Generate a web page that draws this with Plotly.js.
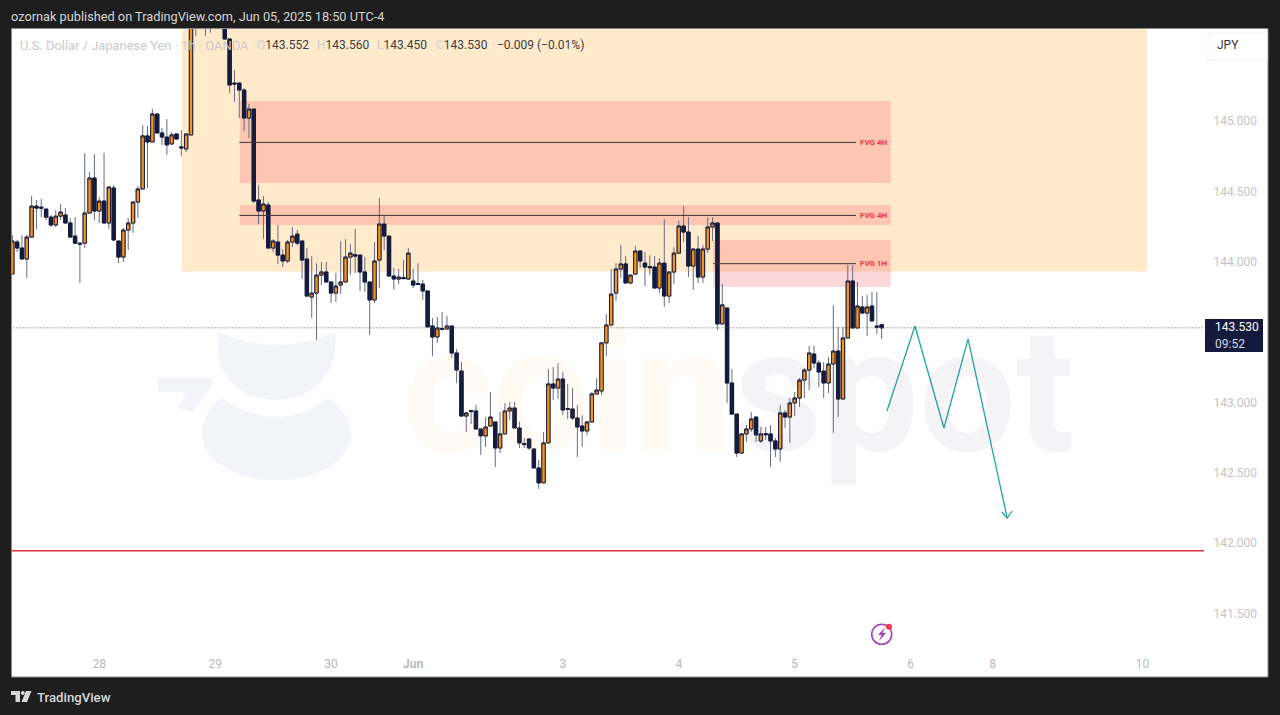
<!DOCTYPE html>
<html><head><meta charset="utf-8">
<script src="https://cdn.plot.ly/plotly-3.0.1.min.js"></script>
<style>html,body{margin:0;padding:0;background:#1e1e1e;overflow:hidden}#c{width:1280px;height:715px}</style>
</head><body><div id="c"></div>
<script>
const opens = [
143.913,144.140,144.097,144.019,144.175,144.395,144.388,144.374,144.317,144.261,
144.324,144.332,144.275,144.182,144.132,144.132,144.346,144.595,144.360,144.431,
144.275,144.524,144.147,144.033,144.225,144.275,144.424,144.517,144.894,144.851,
145.050,144.915,144.886,144.837,144.908,144.816,144.801,144.901,145.750,145.720,
145.800,145.780,145.740,145.770,145.720,145.583,145.270,145.270,145.220,145.021,
145.085,144.439,144.360,144.403,144.097,144.140,144.047,144.005,144.140,144.196,
144.147,144.019,143.749,143.777,143.905,143.927,143.856,143.777,143.834,143.856,
144.033,144.050,144.047,143.927,143.856,143.728,144.012,144.268,144.182,143.898,
143.877,143.887,143.877,143.863,143.845,143.841,143.792,143.543,143.465,143.525,
143.522,143.543,143.351,143.223,142.903,142.942,142.939,142.811,142.762,142.832,
142.861,142.676,142.776,142.939,142.960,142.818,142.708,142.740,142.669,142.534,
142.428,142.712,143.131,143.102,143.166,142.956,142.953,142.889,142.832,142.797,
142.861,143.060,143.081,143.423,143.550,143.777,143.948,143.984,143.849,143.912,
144.076,143.990,143.965,143.962,143.813,143.990,143.756,143.927,144.061,144.254,
144.211,143.969,144.090,143.891,144.090,144.247,144.275,143.558,143.671,143.138,
142.917,142.640,142.776,142.811,142.896,142.726,142.778,142.776,142.726,142.669,
142.925,142.896,142.996,143.031,143.159,143.230,143.344,143.280,143.223,143.138,
143.273,143.365,143.024,143.458,143.863,143.529,143.678,143.635,143.685,143.543,
143.552];
const highs = [
144.190,144.154,144.190,144.190,144.467,144.439,144.446,144.374,144.332,144.367,
144.410,144.381,144.310,144.317,144.132,144.772,144.638,144.765,144.460,144.772,
144.531,144.545,144.147,144.240,144.310,144.431,144.538,144.972,144.965,145.085,
145.050,144.951,145.014,144.922,144.908,144.936,144.908,145.800,145.850,145.860,
145.900,145.880,145.850,145.830,145.780,145.583,145.362,145.270,145.234,145.121,
145.085,144.545,144.467,144.424,144.161,144.261,144.090,144.154,144.247,144.225,
144.147,144.097,144.040,143.990,143.998,143.998,143.856,143.920,144.147,144.161,
144.125,144.232,144.047,144.033,143.856,144.140,144.453,144.332,144.182,143.955,
143.948,144.012,144.097,143.948,143.990,143.870,143.792,143.600,143.607,143.643,
143.614,143.543,143.379,143.287,142.932,142.946,142.982,142.811,142.896,143.074,
142.861,142.932,142.996,143.003,143.003,142.861,142.747,142.740,142.669,142.591,
142.790,143.237,143.251,143.280,143.216,143.131,143.102,142.982,142.910,142.861,
143.074,143.173,143.423,143.628,143.948,143.990,144.118,144.040,143.905,144.111,
144.083,144.069,144.047,144.040,144.026,144.303,143.927,144.104,144.289,144.396,
144.317,144.097,144.182,144.118,144.317,144.317,144.275,143.842,143.671,143.237,
142.917,142.776,142.839,142.932,142.896,142.825,142.825,142.839,142.747,142.982,
142.946,143.031,143.074,143.173,143.244,143.401,143.401,143.301,143.287,143.323,
143.692,143.536,143.536,143.976,143.976,143.856,143.756,143.763,143.785,143.785,
143.560];
const lows = [
143.913,144.069,144.019,143.884,144.175,144.232,144.317,144.296,144.247,144.247,
144.296,144.275,144.175,144.132,143.849,144.097,144.346,144.296,144.275,144.275,
144.232,144.154,143.990,143.998,144.083,144.204,144.310,144.517,144.524,144.851,
144.915,144.830,144.759,144.830,144.872,144.752,144.780,144.901,145.604,145.680,
145.604,145.626,145.690,145.680,145.583,145.199,145.135,145.021,144.929,144.879,
144.417,144.268,144.161,144.097,144.069,143.984,143.962,143.990,144.104,144.118,
143.877,143.756,143.600,143.444,143.834,143.856,143.706,143.714,143.770,143.856,
143.905,143.920,143.792,143.785,143.479,143.706,143.813,144.083,143.898,143.799,
143.842,143.880,143.870,143.813,143.838,143.728,143.537,143.330,143.423,143.515,
143.515,143.316,143.138,142.903,142.790,142.846,142.811,142.626,142.683,142.832,
142.541,142.640,142.776,142.875,142.818,142.676,142.676,142.662,142.534,142.385,
142.428,142.712,143.017,143.024,142.910,142.882,142.875,142.612,142.683,142.768,
142.861,143.060,143.052,143.330,143.550,143.721,143.884,143.849,143.842,143.912,
143.955,143.827,143.905,143.813,143.777,143.678,143.706,143.842,144.061,144.140,
143.891,143.799,143.849,143.849,144.061,144.147,143.515,143.558,142.996,142.917,
142.612,142.640,142.719,142.790,142.719,142.712,142.733,142.541,142.612,142.577,
142.818,142.712,142.903,142.967,143.031,143.088,143.244,143.109,143.031,143.067,
142.783,142.896,143.024,143.458,143.529,143.529,143.635,143.472,143.579,143.487,
143.450];
const closes = [
144.147,144.097,144.019,144.175,144.395,144.381,144.381,144.317,144.261,144.324,
144.353,144.275,144.175,144.132,144.125,144.346,144.595,144.360,144.431,144.275,
144.531,144.154,144.033,144.225,144.275,144.424,144.517,144.894,144.851,145.050,
144.915,144.886,144.830,144.901,144.872,144.809,144.908,145.753,145.720,145.800,
145.780,145.740,145.770,145.720,145.583,145.256,145.263,145.220,145.021,145.085,
144.431,144.360,144.410,144.097,144.147,144.047,144.005,144.140,144.182,144.132,
144.012,143.756,143.777,143.905,143.927,143.856,143.777,143.827,143.856,144.033,
144.061,144.040,143.927,143.856,143.728,144.005,144.268,144.182,143.898,143.877,
143.891,143.880,144.061,143.834,143.838,143.792,143.537,143.465,143.529,143.518,
143.543,143.351,143.230,142.903,142.925,142.935,142.811,142.762,142.825,142.896,
142.676,142.776,142.939,142.960,142.818,142.712,142.700,142.676,142.534,142.428,
142.712,143.131,143.102,143.166,142.946,142.950,142.889,142.825,142.797,142.861,
143.060,143.088,143.423,143.550,143.770,143.948,143.984,143.849,143.905,144.076,
144.005,143.962,143.958,143.813,143.990,143.756,143.927,144.061,144.254,144.211,
143.969,144.090,143.891,144.090,144.247,144.275,143.558,143.693,143.138,142.917,
142.640,142.776,142.811,142.882,142.769,142.776,142.771,142.726,142.669,142.925,
142.896,142.996,143.031,143.159,143.230,143.351,143.280,143.216,143.138,143.273,
143.365,143.024,143.458,143.863,143.529,143.685,143.635,143.678,143.579,143.536,
143.530];

const dayTickBars = [18,42,66,83,114,138,162,186,203,234];
const dayTickText = ['28','29','30','<b>Jun</b>','3','4','5','6','8','10'];
const priceTicks = [141.5,142,142.5,143,144,144.5,145];
const lastPrice = 143.530;
const supportLevel = 141.945;
const projX = [181.1,186.9,192.9,197.9,206.0];
const projY = [142.939,143.543,142.818,143.451,142.178];
const headX = [204.9,206.0,207.0];
const headY = [142.221,142.178,142.228];
const orangeZone = {x:[35.1,235.0], y:[143.930,146.5]};
const fvgZones = [
  {x:[47.1,181.9], y:[144.559,145.142], lineY:144.848, lineX:[47.0,174.7], label:'FVG 4H'},
  {x:[47.1,181.9], y:[144.261,144.403], lineY:144.329, lineX:[47.0,174.7], label:'FVG 4H'},
  {x:[145.1,181.9], y:[143.820,144.154], lineY:143.986, lineX:[145.1,174.7], label:'FVG 1H'}
];

// pixel helpers for page furniture only
const L=12,R=1204,T=29,B=652;
const fx=p=>(p-L)/(R-L), fy=p=>1-(p-T)/(B-T);
const path=s=>s.replace(/(-?[\d.]+),(-?[\d.]+)/g,(m,a,b)=>fx(+a).toFixed(5)+','+fy(+b).toFixed(5));
const rectPx=(x0,y0,x1,y1,o)=>Object.assign({type:'rect',xref:'paper',yref:'paper',x0:fx(x0),x1:fx(x1),y0:fy(y1),y1:fy(y0),line:{width:0}},o);
const pathPx=(s,fill,o)=>Object.assign({type:'path',xref:'paper',yref:'paper',path:path(s),fillcolor:fill,line:{width:0}},o);
const circPx=(cx,cy,r,o)=>Object.assign({type:'circle',xref:'paper',yref:'paper',x0:fx(cx-r),x1:fx(cx+r),y0:fy(cy+r),y1:fy(cy-r),line:{width:0}},o);
const txt=(x,y,text,size,color,o)=>Object.assign({xref:'paper',yref:'paper',x:fx(x),y:fy(y),text,showarrow:false,xanchor:'left',yanchor:'middle',font:{family:'Roboto, sans-serif',size,color},borderpad:0},o);

const wm='#f3f4f7';
const shapes=[
  rectPx(11.5,28.5,1268,677,{fillcolor:'#ffffff',line:{color:'#8a8a8a',width:1},layer:'below'}),
  pathPx('M218,332 Q277,358 335,332 C340,380 305,400 277,400 C245,400 212,380 218,332 Z',wm,{layer:'below'}),
  pathPx('M222,398 Q277,436 328,398 C345,410 351,425 351,432 C351,460 320,480 277,480 C235,480 202,460 202,432 C202,420 212,405 222,398 Z',wm,{layer:'below'}),
  pathPx('M158,378 L212,378 L213,383 L193,412 L178,408 L187,392 L158,392 Z',wm,{layer:'below'}),
  {type:'rect',xref:'x',yref:'y',x0:orangeZone.x[0],x1:orangeZone.x[1],y0:orangeZone.y[0],y1:orangeZone.y[1],fillcolor:'rgba(255,152,0,0.2)',line:{width:0},layer:'below'}
];
fvgZones.forEach(z=>{
  shapes.push({type:'rect',xref:'x',yref:'y',x0:z.x[0],x1:z.x[1],y0:z.y[0],y1:z.y[1],fillcolor:'rgba(242,54,69,0.2)',line:{width:0},layer:'below'});
  shapes.push({type:'line',xref:'x',yref:'y',x0:z.lineX[0],x1:z.lineX[1],y0:z.lineY,y1:z.lineY,line:{color:'#38383c',width:1}});
});
shapes.push(
  rectPx(1205,319,1263,352,{fillcolor:'#131a3d'}),
  rectPx(1208,33,1267,60,{fillcolor:'#ffffff',line:{color:'#f2f2f2',width:1}}),
  circPx(881.7,634.3,10,{fillcolor:'rgba(0,0,0,0)',line:{color:'#a63bc4',width:1.6}}),
  pathPx('M885,627.5 L878,635 L881.5,635 L879,641 L886,633 L882.5,633 Z','#a63bc4',{}),
  circPx(889,626.7,3,{fillcolor:'#f23645'}),
  pathPx('M11,691 L20,691 L20,702 L15.5,702 L15.5,695 L11,695 Z','#d8d8d8',{}),
  circPx(22.8,693,2,{fillcolor:'#d8d8d8'}),
  pathPx('M26,691 L31.5,691 L27,702 L21.5,702 Z','#d8d8d8',{})
);

const annotations=[
  txt(402,391,'coin',172,'rgba(255,160,60,0.055)',{font:{family:'Roboto, sans-serif',size:172,color:'rgba(255,160,60,0.055)',weight:700}}),
  txt(733,391,'spot',172,'rgba(60,70,120,0.06)',{font:{family:'Roboto, sans-serif',size:172,color:'rgba(60,70,120,0.06)',weight:700}}),
  txt(10,16,'ozornak published on TradingView.com, Jun 05, 2025 18:50 UTC-4',12.75,'#d6d6d6'),
  txt(19,45.5,'U.S. Dollar / Japanese Yen · 1h · OANDA',12.9,'#c9c9c9'),
  txt(256,45.5,'<span style="color:#cfcfcf">O</span>143.552',12,'#3c3c3c'),
  txt(316,45.5,'<span style="color:#cfcfcf">H</span>143.560',12,'#3c3c3c'),
  txt(376,45.5,'<span style="color:#cfcfcf">L</span>143.450',12,'#3c3c3c'),
  txt(435,45.5,'<span style="color:#cfcfcf">C</span>143.530',12,'#3c3c3c'),
  txt(496,45.5,'−0.009 (−0.01%)',12,'#3c3c3c'),
  txt(1216,45.5,'JPY',12,'#333333'),
  txt(1214,327,'143.530',12,'#ffffff'),
  txt(1214,343.5,'09:52',12,'#d8d8e0'),
  txt(36,697,'TradingView',13.2,'#d8d8d8',{font:{family:'Roboto, sans-serif',size:13.2,color:'#d8d8d8',weight:500}})
];
fvgZones.forEach(z=>annotations.push({xref:'paper',yref:'y',x:fx(873.5),y:z.lineY,text:'<b>'+z.label+'</b>',showarrow:false,xanchor:'center',yanchor:'middle',font:{family:'Roboto, sans-serif',size:8,color:'#f23645'}}));

const barIndex=opens.map((_,i)=>i);
const bodyHigh=opens.map((o,i)=>Math.max(o,closes[i]));
const bodyLow=opens.map((o,i)=>Math.min(o,closes[i]));
const wickColor='#666b82', bodyEdge='#141b3c', up='#f7931a';
const data=[
  {type:'scatter',mode:'lines',x:[-1,247],y:[lastPrice,lastPrice],line:{color:'#5a5a5a',width:1,dash:'1px,2px'},hoverinfo:'skip'},
  {type:'scatter',mode:'lines',x:[-1,247],y:[supportLevel,supportLevel],line:{color:'#e8323f',width:1.5},hoverinfo:'skip'},
  {type:'candlestick',x:barIndex,open:opens,high:highs,low:lows,close:closes,width:0.8,
   increasing:{line:{color:wickColor,width:1},fillcolor:up},
   decreasing:{line:{color:wickColor,width:1},fillcolor:bodyEdge},hoverinfo:'skip'},
  {type:'candlestick',x:barIndex,open:opens,high:bodyHigh,low:bodyLow,close:closes,width:0.8,
   increasing:{line:{color:bodyEdge,width:1},fillcolor:up},
   decreasing:{line:{color:bodyEdge,width:1},fillcolor:bodyEdge},hoverinfo:'skip'},
  {type:'scatter',mode:'lines',x:projX,y:projY,line:{color:'#26a69a',width:1.3},hoverinfo:'skip'},
  {type:'scatter',mode:'lines',x:headX,y:headY,line:{color:'#26a69a',width:1.3},hoverinfo:'skip'}
];
const layout={
  width:1280,height:715,showlegend:false,boxgap:0,boxmode:'overlay',
  paper_bgcolor:'#1e1e1e',plot_bgcolor:'rgba(0,0,0,0)',
  margin:{l:L,r:1280-R,t:T,b:715-B,pad:0},
  xaxis:{range:[-0.062,246.75],type:'linear',rangeslider:{visible:false},tickmode:'array',tickvals:dayTickBars,ticktext:dayTickText,
    showgrid:false,zeroline:false,showline:false,ticks:'outside',ticklen:1,tickcolor:'rgba(0,0,0,0)',
    tickfont:{family:'Roboto, sans-serif',size:12,color:'#b9b9b9'}},
  yaxis:{range:[141.226,145.654],side:'right',tickmode:'array',tickvals:priceTicks,ticktext:priceTicks.map(v=>v.toFixed(3)),
    showgrid:false,zeroline:false,showline:false,ticks:'outside',ticklen:6,tickcolor:'rgba(0,0,0,0)',
    tickfont:{family:'Roboto, sans-serif',size:12,color:'#c4c4c4'}},
  shapes,annotations
};
Plotly.newPlot('c',data,layout,{staticPlot:true,displayModeBar:false});
</script></body></html>
